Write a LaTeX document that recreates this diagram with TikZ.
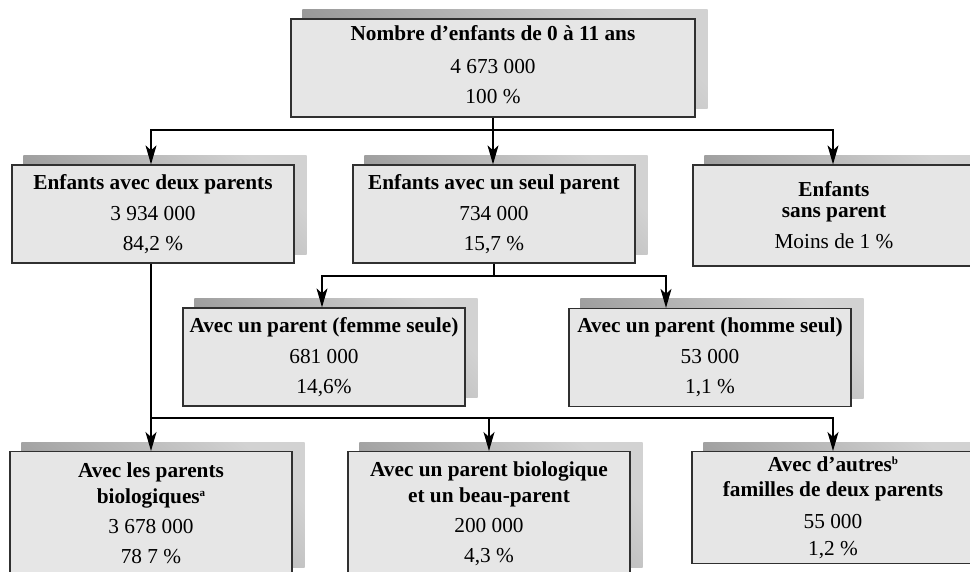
\documentclass[tikz,border=0pt]{standalone}
\usepackage{fontspec}
\setmainfont{Liberation Serif}
\usetikzlibrary{arrows.meta,backgrounds,calc}
\definecolor{boxfill}{HTML}{E6E6E6}
\definecolor{boxline}{HTML}{303030}
\definecolor{shadowdark}{HTML}{969696}
\definecolor{shadowlight}{HTML}{D2D2D2}
\newcommand\supl[1]{\raisebox{7pt}{\fontsize{11}{11}\selectfont #1}}
\begin{document}
\begin{tikzpicture}[x=1pt,y=-1pt,
  box/.style={draw=boxline, line width=1.3pt, fill=boxfill, minimum width=282pt,
    minimum height=98pt, inner sep=0pt, align=center,
    font=\fontsize{21.3}{31}\selectfont},
  conn/.style={line width=1.3pt, black},
  arr/.style={conn, -{Stealth[length=19pt,width=11pt,inset=5pt]}},
  shad/.style={top color=shadowlight, bottom color=shadowdark, shading angle=-45}
]
\useasboundingbox (0,0) rectangle (970,571);
\clip (0,0) rectangle (970,571);

% level 0
\node[box, minimum width=404pt] (top) at (493,68)
  {\textbf{Nombre d’enfants de 0 à 11 ans}\\[2pt] 4 673 000\\[-1pt] 100 \%\\[-24pt]\mbox{}};

% level 1
\node[box] (c1) at (153,214) {\textbf{Enfants avec deux parents}\\ 3 934 000\\[-1pt] 84,2 \%};
\node[box] (c2) at (494,214) {\textbf{Enfants avec un seul parent}\\ 734 000\\[-1pt] 15,7 \%};
\node[box, minimum height=101pt] (c3) at (834,215.5)
  {\textbf{Enfants}\\[-10pt]\textbf{sans parent}\\ Moins de 1 \%};

% level 2
\node[box] (f) at (324,357) {\textbf{Avec un parent (femme seule)}\\ 681 000\\[-1pt] 14,6\%};
\node[box] (h) at (710,357.5) {\textbf{Avec un parent (homme seul)}\\ 53 000\\[-1pt] 1,1 \%};

% level 3
\node[box, minimum height=124pt, anchor=north] (b1) at (151,451)
  {\textbf{Avec les parents}\\[-5pt]\textbf{biologiques\supl{a}}\\[-1pt] 3 678 000\\[-1pt] 78 7 \%};
\node[box, minimum height=124pt, anchor=north] (b2) at (489,451)
  {\textbf{Avec un parent biologique}\\[-5pt]\textbf{et un beau-parent}\\[-1pt] 200 000\\[-1pt] 4,3 \%};
\node[box, minimum height=112pt, anchor=north] (b3) at (833,451)
  {\textbf{Avec d’autres\supl{b}}\\[-6pt]\textbf{familles de deux parents}\\[1pt] 55 000\\[-4pt] 1,2 \%};

% shadows
\begin{scope}[on background layer]
\foreach \n in {top,c1,c2,c3,f,h,b1,b2,b3}
  \shade[shad] ($(\n.south west)+(12,-9)$) rectangle ($(\n.north east)+(12,-9)$);
\end{scope}

% connectors
\coordinate (j1) at (493,130);
\draw[conn] (top.south) -- (j1);
\draw[arr] (j1) -| ([xshift=-2pt]c1.north);
\draw[arr] (j1) -- (j1 |- c2.north);
\draw[arr] (j1) -| ([xshift=-1pt]c3.north);

\coordinate (j2) at (494,276);
\draw[conn] (c2.south) -- (j2);
\draw[arr] (j2) -| ([xshift=-2pt]f.north);
\draw[arr] (j2) -| ([xshift=-44pt]h.north);

\coordinate (j3) at (151,418);
\draw[arr] ([xshift=-2pt]c1.south) -- (b1.north);
\draw[arr] (j3) -| (b2.north);
\draw[arr] (j3) -| (b3.north);
\end{tikzpicture}
\end{document}
